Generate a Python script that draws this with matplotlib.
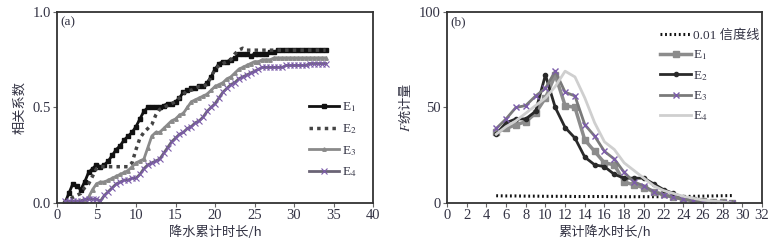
import numpy as np
import matplotlib
matplotlib.use("Agg")
import matplotlib.pyplot as plt

plt.rcParams['font.family'] = ['Liberation Serif', 'Noto Sans CJK SC']
plt.rcParams['mathtext.fontset'] = 'stix'

txt_color = '#333344'

# (a) correlation coefficient vs accumulated rainfall duration, half-hour steps 1..34 h
hours_a = np.arange(1, 34.01, 0.5)
corr_e1 = [0.00, 0.05, 0.10, 0.09, 0.07, 0.11, 0.16, 0.18, 0.20, 0.19,
           0.20, 0.22, 0.25, 0.28, 0.30, 0.33, 0.35, 0.37, 0.40, 0.44,
           0.48, 0.50, 0.50, 0.50, 0.50, 0.51, 0.52, 0.52, 0.53, 0.55,
           0.58, 0.59, 0.60, 0.60, 0.61, 0.61, 0.63, 0.66, 0.70, 0.73,
           0.74, 0.74, 0.75, 0.76, 0.78, 0.78, 0.78, 0.77, 0.78, 0.78,
           0.78, 0.78, 0.79, 0.79, 0.80, 0.80, 0.80, 0.80, 0.80, 0.80,
           0.80, 0.80, 0.80, 0.80, 0.80, 0.80, 0.80]
corr_e2 = [0.00, 0.01, 0.03, 0.04, 0.05, 0.08, 0.10, 0.14, 0.18, 0.19,
           0.19, 0.19, 0.19, 0.19, 0.19, 0.19, 0.19, 0.21, 0.28, 0.34,
           0.37, 0.39, 0.41, 0.46, 0.49, 0.50, 0.51, 0.52, 0.53, 0.55,
           0.57, 0.59, 0.59, 0.60, 0.61, 0.61, 0.62, 0.66, 0.70, 0.72,
           0.73, 0.74, 0.75, 0.78, 0.80, 0.81, 0.80, 0.80, 0.80, 0.80,
           0.80, 0.80, 0.80, 0.80, 0.80, 0.80, 0.80, 0.80, 0.80, 0.80,
           0.80, 0.80, 0.80, 0.80, 0.80, 0.80, 0.80]
corr_e3 = [0.00, 0.00, 0.00, 0.00, 0.01, 0.01, 0.03, 0.07, 0.10, 0.11,
           0.11, 0.12, 0.13, 0.14, 0.15, 0.16, 0.17, 0.19, 0.21, 0.22,
           0.23, 0.29, 0.35, 0.37, 0.37, 0.39, 0.41, 0.43, 0.44, 0.46,
           0.47, 0.50, 0.53, 0.54, 0.55, 0.56, 0.57, 0.59, 0.61, 0.62,
           0.63, 0.65, 0.66, 0.68, 0.70, 0.71, 0.72, 0.73, 0.74, 0.74,
           0.75, 0.75, 0.75, 0.76, 0.76, 0.76, 0.76, 0.76, 0.76, 0.76,
           0.76, 0.76, 0.76, 0.76, 0.76, 0.76, 0.76]
corr_e4 = [0.01, 0.01, 0.01, 0.01, 0.01, 0.02, 0.02, 0.02, 0.02, 0.01,
           0.04, 0.06, 0.08, 0.10, 0.11, 0.12, 0.12, 0.13, 0.13, 0.15,
           0.18, 0.20, 0.21, 0.22, 0.23, 0.26, 0.29, 0.32, 0.34, 0.36,
           0.37, 0.39, 0.40, 0.42, 0.43, 0.45, 0.48, 0.50, 0.52, 0.55,
           0.58, 0.60, 0.62, 0.63, 0.65, 0.66, 0.67, 0.68, 0.69, 0.70,
           0.71, 0.71, 0.71, 0.71, 0.71, 0.71, 0.72, 0.72, 0.72, 0.72,
           0.72, 0.72, 0.73, 0.73, 0.73, 0.73, 0.73]

# (b) F statistic vs accumulated rainfall duration, 5..29 h
hours_b = np.arange(5, 30)
f_crit = [3.8, 3.7, 3.7, 3.6, 3.6, 3.5, 3.5, 3.5, 3.4, 3.4, 3.4, 3.4, 3.3,
          3.3, 3.3, 3.3, 3.3, 3.3, 3.4, 3.4, 3.5, 3.6, 3.7, 3.8, 3.9]
f_e1 = [37, 39, 41, 42.5, 47, 55, 67, 51, 50, 33, 27, 21, 20, 11, 9.5,
        8, 6, 4.5, 3, 2, 1.5, 0.8, 0.5, 0.3, 0]
f_e2 = [36, 42, 44, 44, 48, 67, 50, 39.5, 34, 24, 20, 19, 15, 13, 13,
        13, 10, 7, 5, 3, 2, 1, 0.5, 0, 0]
f_e3 = [39, 44, 50, 51, 56, 60, 69, 58, 56, 41, 35, 27, 23, 16, 11,
        9, 6, 4, 3, 2, 1, 0.5, 0, 0, 0]
f_e4 = [36, 40, 43, 47, 51, 55, 61, 69, 66, 55, 42, 32, 28, 21, 17,
        13, 9, 6.5, 5, 3.5, 2.5, 1.5, 1, 0.5, 0]

fig = plt.figure(figsize=(7.74, 2.44), dpi=100)
ax1 = fig.add_axes([0.0736, 0.168, 0.4084, 0.783])
ax2 = fig.add_axes([0.5775, 0.168, 0.407, 0.783])

purple = '#7c5caa'

ax1.plot(hours_a, corr_e1, color='#111111', lw=2, marker='s', ms=2.5, label='E$_1$')
ax1.plot(hours_a, corr_e2, color='#444444', lw=2.5, ls=(0, (1, 1.2)), label='E$_2$')
ax1.plot(hours_a, corr_e3, color='#8a8a8a', lw=2, marker='^', ms=2.5, label='E$_3$')
ax1.plot(hours_a, corr_e4, color='#6a6475', lw=2, marker='x', ms=4, mec=purple,
         mew=0.8, label='E$_4$')
ax1.set_xlim(0, 40)
ax1.set_ylim(0, 1)
ax1.set_xticks(np.arange(0, 41, 5))
ax1.set_yticks([0, 0.5, 1.0])
ax1.set_yticklabels(['0.0', '0.5', '1.0'])
ax1.set_xlabel('降水累计时长/h', family=['Noto Sans CJK SC'], fontsize=9.5,
               color=txt_color, labelpad=2)
ax1.set_ylabel('相关系数', family=['Noto Sans CJK SC'], fontsize=9.5,
               color=txt_color, labelpad=4)
ax1.text(0.01, 0.975, '(a)', transform=ax1.transAxes, ha='left', va='top',
         fontsize=9.5, color=txt_color)
ax1.legend(loc='center left', bbox_to_anchor=(0.76, 0.33), frameon=False,
           fontsize=9.5, handlelength=2.3, handletextpad=0.2, labelspacing=0.6,
           labelcolor=txt_color)

ax2.plot(hours_b, f_crit, color='#111111', lw=2.2, ls=(0, (0.6, 0.9)), label='0.01 信度线')
ax2.plot(hours_b, f_e1, color='#8c8c8c', lw=2.5, marker='s', ms=4, label='E$_1$')
ax2.plot(hours_b, f_e2, color='#2a2a2a', lw=2, marker='o', ms=3, label='E$_2$')
ax2.plot(hours_b, f_e3, color='#7a7a7a', lw=2, marker='x', ms=4, mec=purple,
         mew=1, label='E$_3$')
ax2.plot(hours_b, f_e4, color='#cfcfcf', lw=2, label='E$_4$')
ax2.set_xlim(0, 32)
ax2.set_ylim(0, 100)
ax2.set_xticks(np.arange(0, 33, 2))
ax2.set_yticks([0, 50, 100])
ax2.set_xlabel('累计降水时长/h', family=['Noto Sans CJK SC'], fontsize=9.5,
               color=txt_color, labelpad=2)
ax2.set_ylabel('$F$统计量', family=['Noto Sans CJK SC'], fontsize=9.5,
               color=txt_color, labelpad=4)
ax2.text(0.01, 0.975, '(b)', transform=ax2.transAxes, ha='left', va='top',
         fontsize=9.5, color=txt_color)
ax2.legend(loc='upper left', bbox_to_anchor=(0.64, 0.97), frameon=False,
           fontsize=9.5, handlelength=2.3, handletextpad=0.2, labelspacing=0.5,
           labelcolor=txt_color)

for ax in (ax1, ax2):
    for s in ax.spines.values():
        s.set_color('#333333')
        s.set_linewidth(1.3)
    ax.tick_params(direction='out', length=3, width=0.8, color='#666666',
                   labelsize=10.5, labelcolor=txt_color, pad=1.5)

fig.savefig('out.png', dpi=100)
